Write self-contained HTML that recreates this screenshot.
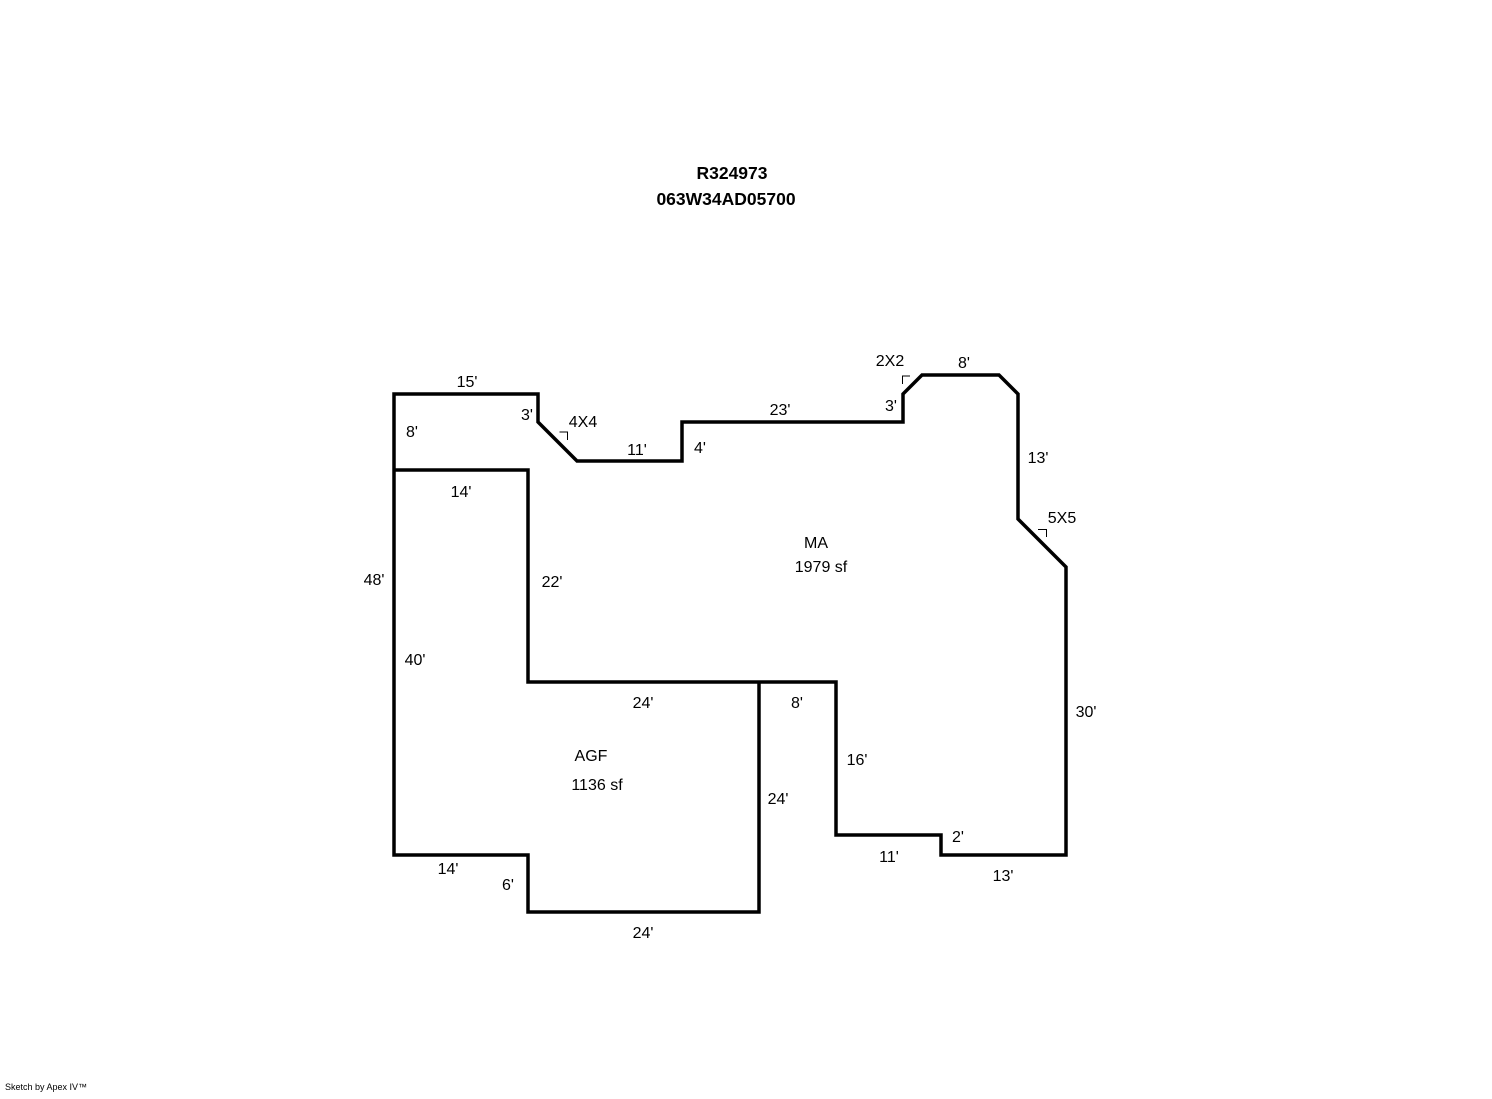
<!DOCTYPE html>
<html><head><style>
body{margin:0;background:#fff;}
svg text{font-family:"Liberation Sans",Arial,sans-serif;font-size:16px;fill:#000;}
</style></head><body>
<svg width="1492" height="1094" xmlns="http://www.w3.org/2000/svg">
<g fill="none" stroke="#000" stroke-width="3.5" stroke-linejoin="miter">
<polyline points="394,470 394,394 538,394 538,422 577,461 682,461 682,422 903,422 903,394 922,375 999,375 1018,394 1018,519 1066,567 1066,855 941,855 941,835 836,835 836,682 528,682 528,470 394,470"/>
<polyline points="394,470 394,855 528,855 528,912 759,912 759,682"/>
</g>
<g fill="none" stroke="#000" stroke-width="1">
<polyline points="559.5,432 567.5,432 567.5,440"/>
<polyline points="902.5,384 902.5,376 910,376"/>
<polyline points="1038,529.5 1046.5,529.5 1046.5,537"/>
</g>
<g font-weight="bold" style="font-size:17.5px"><text x="732" y="179" text-anchor="middle" style="font-size:17.5px">R324973</text>
<text x="726" y="205" text-anchor="middle" style="font-size:17.5px">063W34AD05700</text></g>
<text x="467" y="387" text-anchor="middle">15'</text>
<text x="527" y="420" text-anchor="middle">3'</text>
<text x="583" y="427" text-anchor="middle">4X4</text>
<text x="412" y="437" text-anchor="middle">8'</text>
<text x="637" y="455" text-anchor="middle">11'</text>
<text x="700" y="453" text-anchor="middle">4'</text>
<text x="780" y="415" text-anchor="middle">23'</text>
<text x="890" y="366" text-anchor="middle">2X2</text>
<text x="891" y="411" text-anchor="middle">3'</text>
<text x="964" y="368" text-anchor="middle">8'</text>
<text x="1038" y="463" text-anchor="middle">13'</text>
<text x="1062" y="523" text-anchor="middle">5X5</text>
<text x="461" y="497" text-anchor="middle">14'</text>
<text x="816" y="548" text-anchor="middle">MA</text>
<text x="821" y="572" text-anchor="middle">1979 sf</text>
<text x="374" y="585" text-anchor="middle">48'</text>
<text x="552" y="587" text-anchor="middle">22'</text>
<text x="415" y="665" text-anchor="middle">40'</text>
<text x="643" y="708" text-anchor="middle">24'</text>
<text x="797" y="708" text-anchor="middle">8'</text>
<text x="1086" y="717" text-anchor="middle">30'</text>
<text x="591" y="761" text-anchor="middle">AGF</text>
<text x="597" y="790" text-anchor="middle">1136 sf</text>
<text x="857" y="765" text-anchor="middle">16'</text>
<text x="778" y="804" text-anchor="middle">24'</text>
<text x="958" y="842" text-anchor="middle">2'</text>
<text x="889" y="862" text-anchor="middle">11'</text>
<text x="448" y="874" text-anchor="middle">14'</text>
<text x="508" y="890" text-anchor="middle">6'</text>
<text x="1003" y="881" text-anchor="middle">13'</text>
<text x="643" y="938" text-anchor="middle">24'</text>
<text x="5" y="1090" style="font-size:9px">Sketch by Apex IV™</text>
</svg>
</body></html>
